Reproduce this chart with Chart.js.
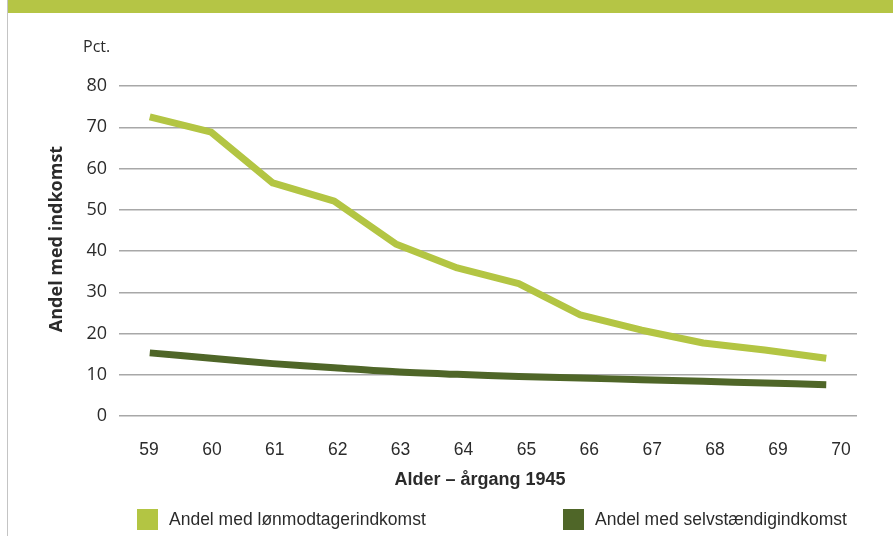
<!DOCTYPE html>
<html>
<head>
<meta charset="utf-8">
<script src="https://cdn.jsdelivr.net/npm/chart.js@4"></script>
<style>
  html, body { margin: 0; padding: 0; background: #fff; }
  #wrap { width: 893px; height: 536px; position: relative; }
</style>
</head>
<body>
<div id="wrap"><canvas id="chart" width="893" height="536"></canvas></div>
<script>
// ── Data ──────────────────────────────────────────────────────────
const ages        = ['59', '60', '61', '62', '63', '64', '65', '66', '67', '68', '69', '70'];
const ageTicks    = [59, 60, 61, 62, 63, 64, 65, 66, 67, 68, 69, 70];
const loenmodtager = [72.5, 68.8, 56.5, 52.1, 41.7, 35.9, 32.1, 24.5, 20.8, 17.7, 16.0, 14.0];
const selvstaendig = [15.3, 14.0, 12.7, 11.7, 10.7, 10.1, 9.6, 9.2, 8.8, 8.4, 8.0, 7.6];
const yTicks      = [0, 10, 20, 30, 40, 50, 60, 70, 80];

const LIGHT = '#b3c543';
const DARK  = '#4f6628';
const TEXT  = '#2b2b2b';

// Frame, titles and the custom legend
const decorations = {
  id: 'decorations',
  beforeDraw(chart) {
    const ctx = chart.ctx;
    ctx.save();
    ctx.fillStyle = '#fff';
    ctx.fillRect(0, 0, chart.width, chart.height);
    // top band
    ctx.fillStyle = '#b5c545';
    ctx.fillRect(8, 0, chart.width - 8, 13);
    // left frame line
    ctx.strokeStyle = '#c4c4c4';
    ctx.lineWidth = 1;
    ctx.beginPath();
    ctx.moveTo(7.5, 0);
    ctx.lineTo(7.5, chart.height);
    ctx.stroke();
    ctx.restore();
  },
  afterDraw(chart) {
    const ctx = chart.ctx;
    ctx.save();
    ctx.fillStyle = TEXT;
    ctx.textBaseline = 'middle';

    ctx.font = '16px "Open Sans"';
    ctx.textAlign = 'left';
    ctx.fillText('Pct.', 83, 47);

    ctx.font = 'bold 18px "Liberation Sans"';
    ctx.textAlign = 'center';
    ctx.fillText('Alder – årgang 1945', 480, 480);

    ctx.save();
    ctx.translate(57, 239);
    ctx.rotate(-Math.PI / 2);
    ctx.font = 'bold 18px "Open Sans"';
    ctx.fillText('Andel med indkomst', 0, 0);
    ctx.restore();

    // legend
    const legendX = [137, 563];
    chart.data.datasets.forEach((ds, i) => {
      const x = legendX[i];
      ctx.fillStyle = ds.borderColor;
      ctx.fillRect(x, 509, 21, 21);
      ctx.fillStyle = TEXT;
      ctx.font = '17.5px "Liberation Sans"';
      ctx.textAlign = 'left';
      ctx.fillText(ds.label, x + 32, 520);
    });
    ctx.restore();
  }
};

new Chart(document.getElementById('chart'), {
  type: 'line',
  data: {
    labels: ages,
    datasets: [
      {
        label: 'Andel med lønmodtagerindkomst',
        data: loenmodtager,
        borderColor: LIGHT,
        backgroundColor: LIGHT,
        borderWidth: 7,
        pointRadius: 0,
        tension: 0,
        borderCapStyle: 'butt',
        borderJoinStyle: 'round',
      },
      {
        label: 'Andel med selvstændigindkomst',
        data: selvstaendig,
        borderColor: DARK,
        backgroundColor: DARK,
        borderWidth: 7,
        pointRadius: 0,
        tension: 0.3,
        borderCapStyle: 'butt',
      }
    ]
  },
  options: {
    responsive: false,
    animation: false,
    layout: { padding: { top: 86, right: 36, left: 0, bottom: 0 } },
    plugins: { legend: { display: false }, tooltip: { enabled: false } },
    scales: {
      x: {
        type: 'category',
        offset: true,
        display: false,
      },
      xl: {
        type: 'linear',
        position: 'bottom',
        min: 58.523,
        max: 70.256,
        afterBuildTicks: s => { s.ticks = ageTicks.map(v => ({ value: v })); },
        afterFit: s => { s.height = 120; },
        grid: { display: false },
        border: { display: false },
        ticks: {
          color: TEXT,
          padding: 16,
          font: { family: 'Liberation Sans', size: 17.5 },
          maxRotation: 0,
          autoSkip: false,
        }
      },
      y: {
        min: 0,
        max: 80,
        afterBuildTicks: s => { s.ticks = yTicks.map(v => ({ value: v })); },
        afterFit: s => { s.width = 119; },
        grid: { color: '#a8a8a8', lineWidth: 1.5, drawTicks: false },
        border: { display: false },
        ticks: {
          color: TEXT,
          padding: 12,
          font: { family: 'Open Sans', size: 18 },
        }
      }
    }
  },
  plugins: [decorations]
});
</script>
</body>
</html>
